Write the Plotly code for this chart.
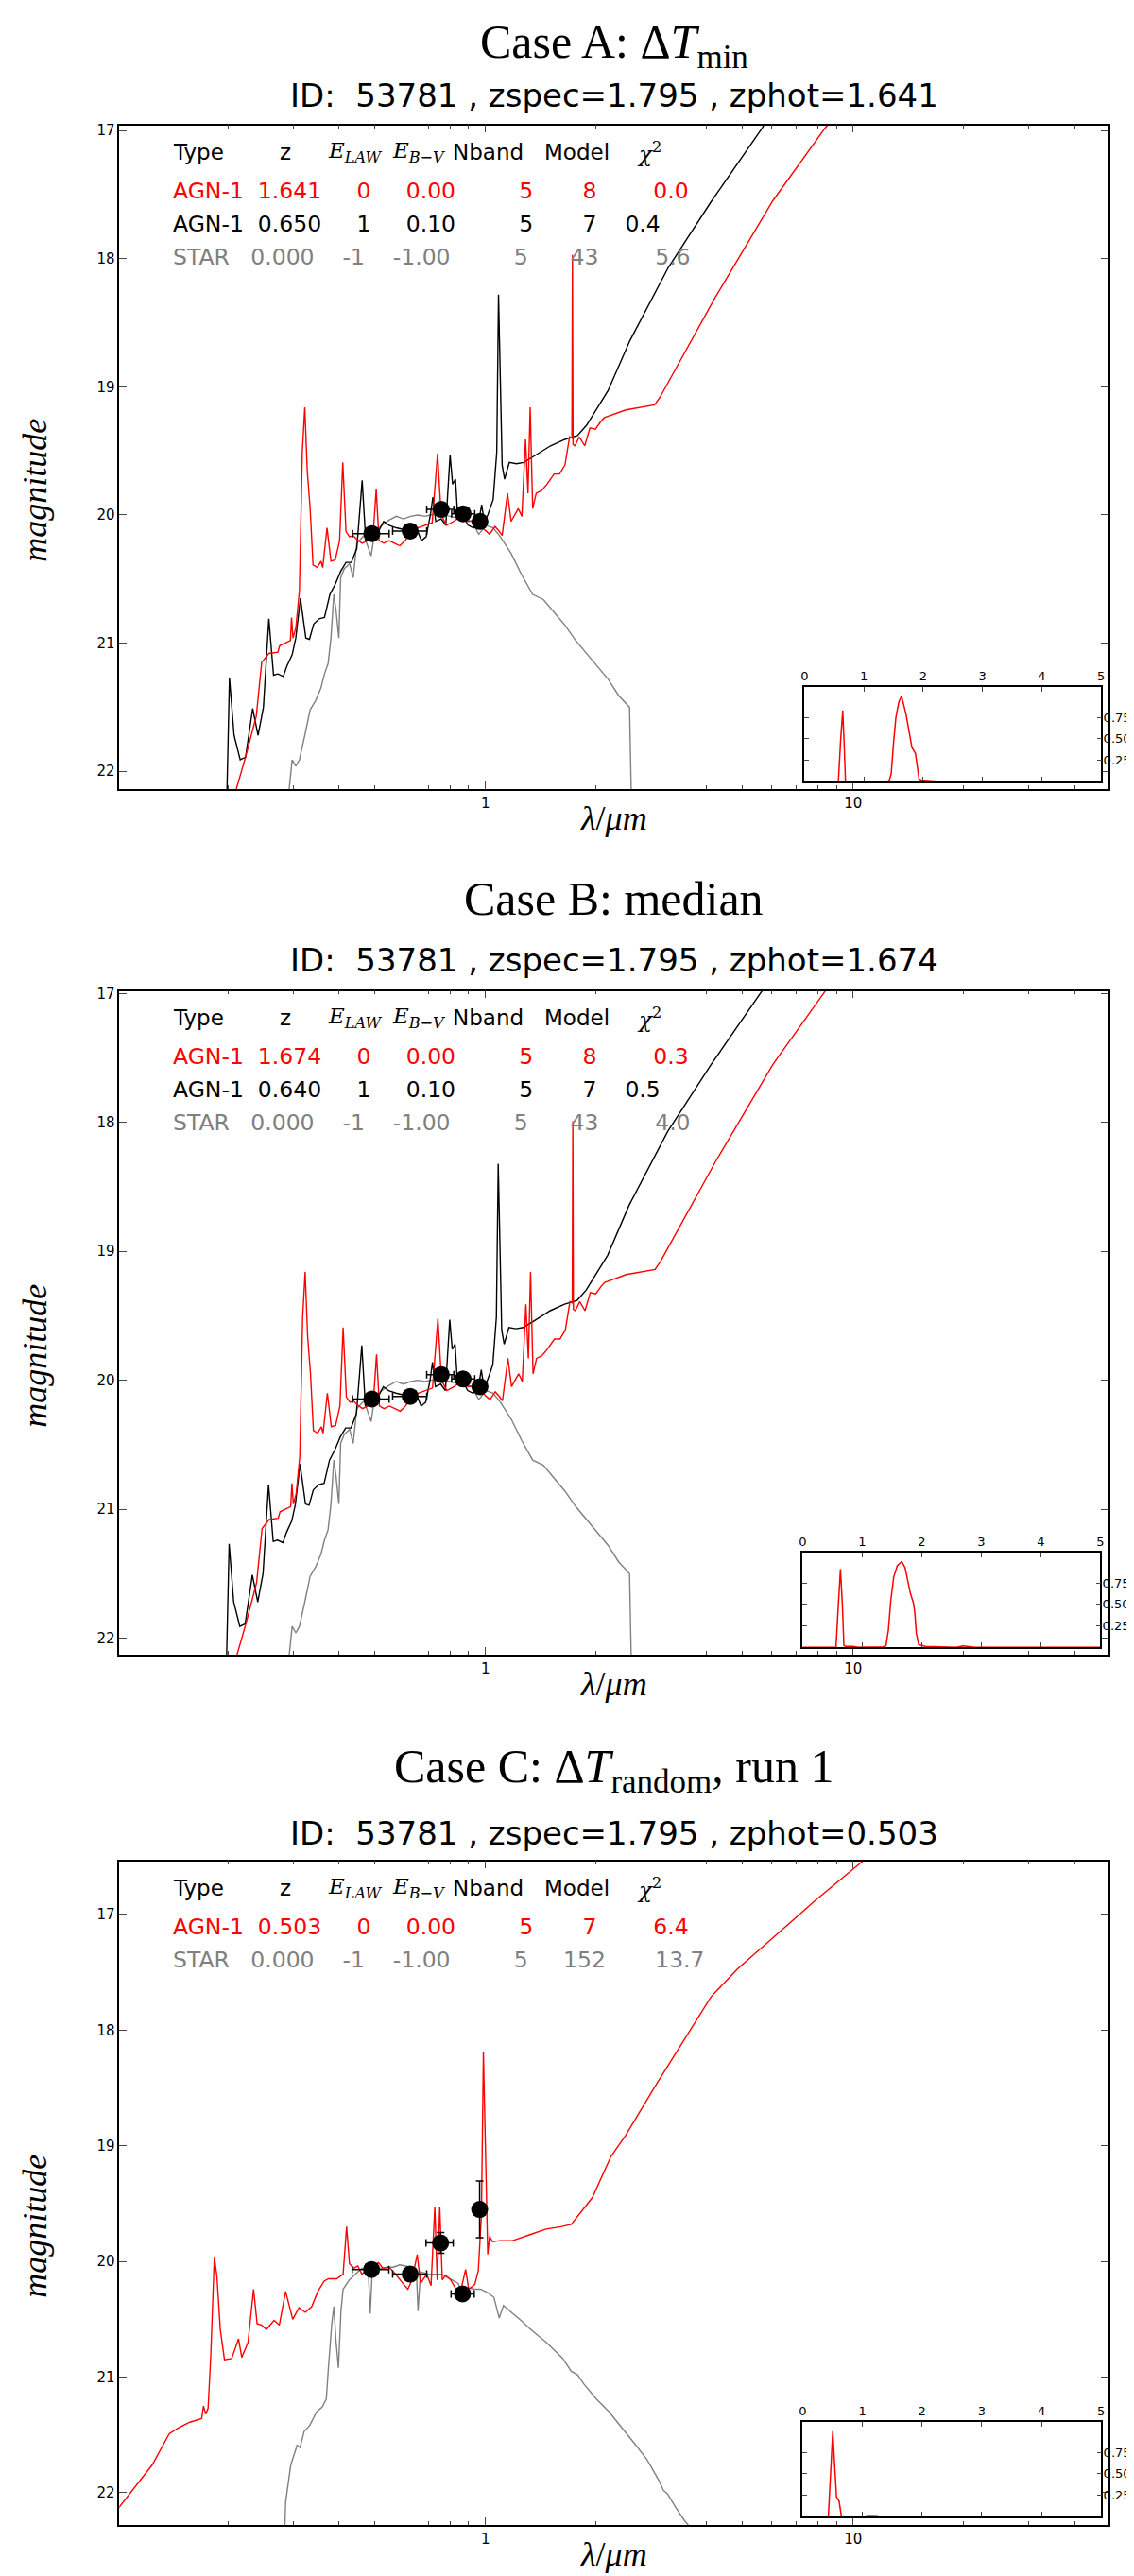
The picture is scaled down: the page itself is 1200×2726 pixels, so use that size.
import plotly.graph_objects as go

# ---------------- data ----------------
# photometry (lambda in micron, magnitudes)
phot_lam = [0.491, 0.624, 0.758, 0.869, 0.966]
phot_lam_lo = [0.056, 0.065, 0.066, 0.060, 0.039]
phot_lam_hi = [0.056, 0.068, 0.062, 0.066, 0.041]
phot_mag_ab = [20.145, 20.125, 19.956, 19.99, 20.05]
phot_err_ab = [0.03, 0.03, 0.03, 0.03, 0.03]
phot_lam_c = [0.490, 0.624, 0.755, 0.866, 0.964]
phot_mag_c = [20.07, 20.11, 19.84, 20.28, 19.55]
phot_err_c = [0.03, 0.03, 0.09, 0.05, 0.245]

# Case A
a_red_lam = [0.2080, 0.2225, 0.2380, 0.2462, 0.2575, 0.2725, 0.2756, 0.2947, 0.2968, 0.2995, 0.3049,
             0.3118, 0.3175, 0.3225, 0.3276, 0.3335, 0.3396, 0.3488, 0.3568, 0.3608, 0.3707, 0.3799,
             0.3903, 0.4010, 0.4091, 0.4175, 0.4270, 0.4367, 0.4467, 0.4619, 0.4777, 0.4943, 0.5044,
             0.5135, 0.5286, 0.5467, 0.5655, 0.5849, 0.6049, 0.6257, 0.6546, 0.6847, 0.7161, 0.7407,
             0.7575, 0.7834, 0.8194, 0.8570, 0.8966, 0.9378, 0.9809, 1.026, 1.061, 1.085, 1.110, 1.148,
             1.174, 1.228, 1.256, 1.285, 1.305, 1.323, 1.344, 1.374, 1.421, 1.470, 1.537, 1.590, 1.645,
             1.693, 1.718, 1.724, 1.730, 1.751, 1.800, 1.861, 1.924, 1.991, 2.059, 2.106, 2.410, 2.885,
             2.984, 4.22, 6.04, 8.39, 10.2]
a_red_mag = [22.18, 21.89, 21.57, 21.15, 21.08, 21.07, 21.02, 20.98, 20.80, 20.96, 20.88,
             20.59, 19.51, 19.16, 19.66, 19.95, 20.39, 20.41, 20.36, 20.41, 20.10, 20.36,
             20.35, 20.20, 19.59, 20.13, 20.17, 20.16, 20.19, 20.22, 20.20, 20.17, 19.80,
             20.20, 20.22, 20.20, 20.22, 20.24, 20.20, 20.13, 20.10, 20.08, 20.06, 19.52,
             20.00, 20.08, 20.05, 20.01, 20.05, 20.04, 20.10, 20.15, 20.09, 20.12, 20.16, 19.83,
             20.05, 19.95, 20.01, 19.41, 19.83, 19.16, 19.95, 19.83, 19.81, 19.76, 19.68, 19.68, 19.61,
             19.39, 19.40, 17.97, 19.45, 19.46, 19.39, 19.46, 19.32, 19.33, 19.27, 19.24, 19.18, 19.14,
             19.08, 18.30, 17.55, 16.98, 16.70]
a_blk_lam = [0.1980, 0.2012, 0.2071, 0.2152, 0.2225, 0.2327, 0.2407, 0.2489, 0.2575, 0.2652, 0.2725,
             0.2818, 0.2882, 0.2980, 0.3048, 0.3138, 0.3246, 0.3320, 0.3411, 0.3528, 0.3648, 0.3774,
             0.3903, 0.4037, 0.4175, 0.4318, 0.4467, 0.4619, 0.4724, 0.4887, 0.5110, 0.5286, 0.5467,
             0.5719, 0.6117, 0.6546, 0.6695, 0.6894, 0.7082, 0.7193, 0.7323, 0.7575, 0.7799, 0.8011,
             0.8139, 0.8286, 0.8380, 0.8667, 0.8966, 0.9273, 0.9590, 0.9763, 0.9918, 1.0144, 1.0493,
             1.0731, 1.085, 1.110, 1.127, 1.161, 1.214, 1.270, 1.374, 1.503, 1.645, 1.779, 1.883,
             2.013, 2.154, 2.47, 3.14, 4.12, 5.66, 7.0]
a_blk_mag = [22.18, 21.27, 21.72, 21.91, 21.89, 21.51, 21.72, 21.50, 20.81, 21.25, 21.24,
             21.26, 21.18, 21.09, 20.96, 20.65, 20.96, 20.97, 20.85, 20.81, 20.80, 20.62,
             20.54, 20.44, 20.37, 20.37, 20.26, 19.73, 20.20, 20.16, 20.13, 20.05, 20.08,
             20.10, 20.12, 20.13, 20.20, 20.17, 20.00, 19.86, 20.05, 20.03, 20.08, 19.53,
             19.76, 19.72, 19.95, 20.00, 20.08, 20.10, 20.05, 19.92, 20.05, 20.00, 19.88,
             19.51, 18.28, 19.61, 19.72, 19.59, 19.60, 19.59, 19.53, 19.46, 19.41, 19.38, 19.30,
             19.17, 19.03, 18.64, 18.07, 17.55, 16.98, 16.50]
a_gry_lam = [0.2914, 0.2980, 0.3049, 0.3118, 0.3225, 0.3335, 0.3449, 0.3568, 0.3648, 0.3731, 0.3799,
             0.3868, 0.3921, 0.3992, 0.4037, 0.4128, 0.4270, 0.4367, 0.4467, 0.4672, 0.4887, 0.4998,
             0.5227, 0.5467, 0.5719, 0.5981, 0.6257, 0.6546, 0.6847, 0.7082, 0.7490, 0.8011, 0.8570,
             0.9169, 0.9590, 1.003, 1.049, 1.098, 1.174, 1.256, 1.344, 1.437, 1.537, 1.645, 1.760,
             1.883, 2.013, 2.154, 2.304, 2.465, 2.492]
a_gry_mag = [22.18, 21.91, 21.96, 21.91, 21.72, 21.52, 21.45, 21.35, 21.24, 21.16, 20.96,
             20.62, 20.74, 20.96, 20.49, 20.42, 20.38, 20.49, 20.22, 20.16, 20.32, 20.13,
             20.08, 20.04, 20.01, 20.03, 20.01, 20.00, 20.01, 20.00, 19.99, 20.01, 20.03,
             20.05, 20.15, 20.08, 20.10, 20.17, 20.30, 20.47, 20.62, 20.66, 20.76, 20.86, 20.98,
             21.08, 21.18, 21.28, 21.41, 21.50, 22.18]
a_pz_z = [0.0, 0.57, 0.61, 0.644, 0.67, 0.69, 0.75, 1.0, 1.40, 1.43, 1.46, 1.50, 1.54, 1.59, 1.635,
          1.71, 1.76, 1.81, 1.87, 1.90, 1.93, 1.97, 2.24, 2.5, 5.0]
a_pz_p = [0.0, 0.0, 0.5, 0.83, 0.4, 0.0, 0.005, 0.002, 0.002, 0.02, 0.09, 0.45, 0.75, 0.93, 1.0,
          0.79, 0.60, 0.40, 0.33, 0.20, 0.03, 0.02, 0.005, 0.0, 0.0]

# Case B (read separately; at this resolution it is almost the same as A)
b_red_lam = [0.2085, 0.2230, 0.2385, 0.2468, 0.2580, 0.2730, 0.2762, 0.2953, 0.2975, 0.3002, 0.3056,
             0.3125, 0.3182, 0.3232, 0.3283, 0.3342, 0.3404, 0.3496, 0.3576, 0.3616, 0.3715, 0.3807,
             0.3912, 0.4019, 0.4100, 0.4184, 0.4280, 0.4377, 0.4477, 0.4629, 0.4788, 0.4954, 0.5055,
             0.5146, 0.5298, 0.5479, 0.5668, 0.5862, 0.6062, 0.6271, 0.6560, 0.6862, 0.7177, 0.7423,
             0.7592, 0.7851, 0.8212, 0.8589, 0.8986, 0.9399, 0.9830, 1.028, 1.063, 1.087, 1.112, 1.151,
             1.177, 1.231, 1.259, 1.288, 1.308, 1.326, 1.347, 1.377, 1.424, 1.473, 1.540, 1.594, 1.649,
             1.697, 1.722, 1.728, 1.734, 1.755, 1.804, 1.865, 1.928, 1.995, 2.064, 2.111, 2.415, 2.891,
             2.990, 4.23, 6.05, 8.40, 10.2]
b_red_mag = [22.18, 21.89, 21.57, 21.15, 21.08, 21.07, 21.02, 20.98, 20.80, 20.96, 20.88,
             20.59, 19.51, 19.16, 19.66, 19.95, 20.39, 20.41, 20.36, 20.41, 20.10, 20.36,
             20.35, 20.20, 19.59, 20.13, 20.17, 20.16, 20.19, 20.22, 20.20, 20.17, 19.80,
             20.20, 20.22, 20.20, 20.22, 20.24, 20.20, 20.13, 20.10, 20.08, 20.06, 19.52,
             20.00, 20.08, 20.05, 20.01, 20.05, 20.04, 20.10, 20.15, 20.09, 20.12, 20.16, 19.83,
             20.05, 19.95, 20.01, 19.41, 19.83, 19.16, 19.95, 19.83, 19.81, 19.76, 19.68, 19.68, 19.61,
             19.39, 19.40, 17.99, 19.45, 19.46, 19.39, 19.46, 19.32, 19.33, 19.27, 19.24, 19.18, 19.14,
             19.08, 18.30, 17.55, 16.98, 16.70]
b_blk_lam = [0.1975, 0.2008, 0.2066, 0.2147, 0.2220, 0.2322, 0.2402, 0.2483, 0.2570, 0.2646, 0.2719,
             0.2812, 0.2876, 0.2973, 0.3041, 0.3131, 0.3239, 0.3312, 0.3403, 0.3520, 0.3640, 0.3765,
             0.3894, 0.4028, 0.4166, 0.4308, 0.4457, 0.4609, 0.4713, 0.4876, 0.5098, 0.5274, 0.5454,
             0.5706, 0.6103, 0.6531, 0.6680, 0.6878, 0.7066, 0.7176, 0.7306, 0.7558, 0.7781, 0.7993,
             0.8120, 0.8267, 0.8361, 0.8647, 0.8946, 0.9252, 0.9568, 0.9741, 0.9895, 1.0121, 1.0469,
             1.0706, 1.083, 1.107, 1.124, 1.158, 1.211, 1.267, 1.371, 1.500, 1.641, 1.775, 1.879,
             2.008, 2.149, 2.46, 3.13, 4.11, 5.65, 7.0]
b_blk_mag = [22.18, 21.27, 21.72, 21.91, 21.89, 21.51, 21.72, 21.50, 20.81, 21.25, 21.24,
             21.26, 21.18, 21.09, 20.96, 20.65, 20.96, 20.97, 20.85, 20.81, 20.80, 20.62,
             20.54, 20.44, 20.37, 20.37, 20.26, 19.73, 20.20, 20.16, 20.13, 20.05, 20.08,
             20.10, 20.12, 20.13, 20.20, 20.17, 20.00, 19.86, 20.05, 20.03, 20.08, 19.53,
             19.76, 19.72, 19.95, 20.00, 20.08, 20.10, 20.05, 19.92, 20.05, 20.00, 19.88,
             19.51, 18.32, 19.61, 19.72, 19.59, 19.60, 19.59, 19.53, 19.46, 19.41, 19.38, 19.30,
             19.17, 19.03, 18.64, 18.07, 17.55, 16.98, 16.50]
b_gry_lam = [0.2914, 0.2980, 0.3049, 0.3118, 0.3225, 0.3335, 0.3449, 0.3568, 0.3648, 0.3731, 0.3799,
             0.3868, 0.3921, 0.3992, 0.4037, 0.4128, 0.4270, 0.4367, 0.4467, 0.4672, 0.4887, 0.4998,
             0.5227, 0.5467, 0.5719, 0.5981, 0.6257, 0.6546, 0.6847, 0.7082, 0.7490, 0.8011, 0.8570,
             0.9169, 0.9590, 1.003, 1.049, 1.098, 1.174, 1.256, 1.344, 1.437, 1.537, 1.645, 1.760,
             1.883, 2.013, 2.154, 2.304, 2.465, 2.492]
b_gry_mag = [22.18, 21.91, 21.96, 21.91, 21.72, 21.52, 21.45, 21.35, 21.24, 21.16, 20.96,
             20.62, 20.74, 20.96, 20.49, 20.42, 20.38, 20.49, 20.22, 20.16, 20.32, 20.13,
             20.08, 20.04, 20.01, 20.03, 20.01, 20.00, 20.01, 20.00, 19.99, 20.01, 20.03,
             20.05, 20.15, 20.08, 20.10, 20.17, 20.30, 20.47, 20.62, 20.66, 20.76, 20.86, 20.98,
             21.08, 21.18, 21.28, 21.41, 21.50, 22.18]
b_pz_z = [0.0, 0.56, 0.60, 0.635, 0.667, 0.693, 0.72, 0.85, 0.93, 1.35, 1.40, 1.44, 1.48, 1.53,
          1.59, 1.665, 1.72, 1.77, 1.81, 1.86, 1.885, 1.91, 1.95, 2.06, 2.27, 2.58, 2.69, 2.79,
          2.9, 5.0]
b_pz_p = [0.0, 0.0, 0.5, 0.91, 0.5, 0.02, 0.01, 0.01, 0.0, 0.005, 0.02, 0.2, 0.54, 0.82,
          0.95, 1.0, 0.93, 0.75, 0.63, 0.52, 0.40, 0.16, 0.03, 0.01, 0.005, 0.0, 0.015, 0.005,
          0.0, 0.0]

# Case C
c_red_lam = [0.100, 0.124, 0.138, 0.146, 0.157, 0.169, 0.171, 0.1734, 0.176, 0.179, 0.183, 0.186,
             0.190, 0.195, 0.204, 0.213, 0.2173, 0.226, 0.234, 0.2393, 0.246, 0.2535, 0.266, 0.275,
             0.286, 0.299, 0.311, 0.3236, 0.337, 0.350, 0.364, 0.374, 0.394, 0.410, 0.419, 0.4266,
             0.438, 0.4496, 0.461, 0.486, 0.512, 0.526, 0.547, 0.569, 0.600, 0.615, 0.631, 0.652,
             0.666, 0.692, 0.711, 0.728, 0.739, 0.751, 0.763, 0.779, 0.804, 0.832, 0.854, 0.883,
             0.900, 0.935, 0.956, 0.975, 0.987, 1.000, 1.014, 1.026, 1.045, 1.096, 1.185, 1.316,
             1.462, 1.603, 1.711, 1.951, 2.196, 2.406, 2.90, 4.11, 4.85, 6.21, 7.95, 10.6, 12.0]
c_red_mag = [22.14, 21.76, 21.49, 21.44, 21.39, 21.36, 21.25, 21.32, 21.27, 20.81, 19.96, 20.13,
             20.59, 20.85, 20.84, 20.67, 20.83, 20.70, 20.24, 20.54, 20.55, 20.59, 20.51, 20.55,
             20.26, 20.50, 20.40, 20.44, 20.39, 20.26, 20.17, 20.15, 20.15, 20.11, 19.70, 20.02,
             20.06, 20.04, 20.11, 20.05, 20.01, 20.06, 20.05, 20.11, 20.20, 20.24, 20.16, 19.94,
             20.19, 20.11, 20.21, 19.53, 20.16, 19.53, 20.16, 20.12, 20.16, 20.24, 20.27, 20.07,
             20.24, 20.20, 20.08, 19.59, 18.19, 19.13, 19.94, 19.78, 19.83, 19.82, 19.82, 19.77,
             19.72, 19.70, 19.68, 19.45, 19.09, 18.91, 18.48, 17.71, 17.47, 17.17, 16.87, 16.54, 16.40]
c_gry_lam = [0.2847, 0.2861, 0.2954, 0.3073, 0.3129, 0.3212, 0.3323, 0.3475, 0.3595, 0.3690, 0.3739,
             0.3818, 0.3869, 0.3920, 0.3982, 0.4045, 0.4099, 0.4263, 0.4433, 0.4610, 0.4797, 0.4860,
             0.4924, 0.5189, 0.5397, 0.5614, 0.5839, 0.6073, 0.6317, 0.6486, 0.6554, 0.6658, 0.7016,
             0.7590, 0.8000, 0.8432, 0.8768, 0.9000, 0.9363, 0.9687, 1.013, 1.054, 1.090, 1.119,
             1.186, 1.249, 1.317, 1.388, 1.463, 1.541, 1.624, 1.711, 1.780, 1.852, 2.003, 2.168,
             2.345, 2.536, 2.745, 2.970, 3.048, 3.128, 3.297, 3.475, 3.586]
c_gry_mag = [22.28, 22.08, 21.76, 21.59, 21.61, 21.47, 21.42, 21.30, 21.26, 21.19, 20.92,
             20.54, 20.39, 20.68, 20.92, 20.43, 20.24, 20.16, 20.11, 20.06, 20.06, 20.45,
             20.06, 20.06, 20.05, 20.05, 20.03, 20.04, 20.06, 20.08, 20.43, 20.09, 20.11,
             20.11, 20.15, 20.19, 20.35, 20.23, 20.24, 20.24, 20.27, 20.31, 20.49, 20.38,
             20.45, 20.51, 20.58, 20.64, 20.70, 20.77, 20.84, 20.95, 20.98, 21.06, 21.19, 21.30,
             21.44, 21.57, 21.71, 21.90, 21.98, 22.01, 22.13, 22.24, 22.29]
c_pz_z = [0.0, 0.43, 0.47, 0.504, 0.536, 0.567, 0.61, 0.65, 1.0, 1.1, 1.25, 1.3, 5.0]
c_pz_p = [0.0, 0.0, 0.53, 1.0, 0.60, 0.23, 0.18, 0.0, 0.0, 0.012, 0.01, 0.0, 0.0]

# fit tables
a_type = ["AGN-1", "AGN-1", "STAR"]
a_z = [1.641, 0.650, 0.000]
a_elaw = [0, 1, -1]
a_ebv = [0.00, 0.10, -1.00]
a_nband = [5, 5, 5]
a_model = [8, 7, 43]
a_chi2 = [0.0, 0.4, 5.6]
b_type = ["AGN-1", "AGN-1", "STAR"]
b_z = [1.674, 0.640, 0.000]
b_elaw = [0, 1, -1]
b_ebv = [0.00, 0.10, -1.00]
b_nband = [5, 5, 5]
b_model = [8, 7, 43]
b_chi2 = [0.3, 0.5, 4.0]
c_type = ["AGN-1", "STAR"]
c_z = [0.503, 0.000]
c_elaw = [0, -1]
c_ebv = [0.00, -1.00]
c_nband = [5, 5]
c_model = [7, 152]
c_chi2 = [6.4, 13.7]

case_titles = ["Case A: Δ<i>T</i><sub>min</sub>", "Case B: median",
               "Case C: Δ<i>T</i><sub>random</sub>, run 1"]
obj_id, zspec = 53781, 1.795
zphot = [1.641, 1.674, 0.503]

# ---------------- layout geometry (pixels) ----------------
W, H = 1200, 2726
def fx(p):
    return p / W
def fy(p):
    return 1 - p / H

X0, X1 = 115, 1169
TOPS = [119, 1037, 1960]
BOTS = [823, 1741, 2664]
YRANGES = [[22.14, 16.96], [22.13, 16.98], [22.28, 16.54]]
IN_X = [(845, 1161), (843, 1160), (843, 1161)]
IN_Y = [(715, 815), (1633, 1733), (2555, 2655)]
TITLE_TOP = [0, 909, 1829]
ID_Y = [87, 1004, 1930]

RED, BLACK, GREY = "#ff0000", "#000000", "#808080"
TICKFONT = dict(family="DejaVu Sans", size=15, color="black")
INFONT = dict(family="DejaVu Sans", size=13, color="black")

panels = [
    dict(curves=[(a_gry_lam, a_gry_mag, GREY), (a_blk_lam, a_blk_mag, BLACK), (a_red_lam, a_red_mag, RED)],
         phot=(phot_lam, phot_mag_ab, phot_err_ab), pz=(a_pz_z, a_pz_p),
         table=(a_type, a_z, a_elaw, a_ebv, a_nband, a_model, a_chi2), colors=[RED, BLACK, GREY]),
    dict(curves=[(b_gry_lam, b_gry_mag, GREY), (b_blk_lam, b_blk_mag, BLACK), (b_red_lam, b_red_mag, RED)],
         phot=(phot_lam, phot_mag_ab, phot_err_ab), pz=(b_pz_z, b_pz_p),
         table=(b_type, b_z, b_elaw, b_ebv, b_nband, b_model, b_chi2), colors=[RED, BLACK, GREY]),
    dict(curves=[(c_gry_lam, c_gry_mag, GREY), (c_red_lam, c_red_mag, RED)],
         phot=(phot_lam_c, phot_mag_c, phot_err_c), pz=(c_pz_z, c_pz_p),
         table=(c_type, c_z, c_elaw, c_ebv, c_nband, c_model, c_chi2), colors=[RED, GREY]),
]

fig = go.Figure()
annotations = []
layout_axes = {}
minor_vals = [0.2, 0.3, 0.4, 0.5, 0.6, 0.7, 0.8, 0.9, 2, 3, 4, 5, 6, 7, 8, 9, 20, 30, 40]


def row_text(typ, z, elaw, ebv, nb, mod, chi, second):
    chi_w = 7 if second else 11
    s = "{:<5s}  {:5.3f}{:6d}{:9.2f}{:10d}{:8d}{:{w}.1f}".format(typ, z, elaw, ebv, nb, mod, chi, w=chi_w)
    return s.replace(" ", "\u00a0")


for i, p in enumerate(panels):
    m, n = 2 * i + 1, 2 * i + 2
    xm, ym = f"x{m}" if m > 1 else "x", f"y{m}" if m > 1 else "y"
    xn, yn = f"x{n}", f"y{n}"
    for lam, mag, col in p["curves"]:
        fig.add_trace(go.Scatter(x=lam, y=mag, mode="lines", line=dict(color=col, width=1.4),
                                 xaxis=xm, yaxis=ym, showlegend=False, hoverinfo="skip"))
    plam, pmag, perr = p["phot"]
    fig.add_trace(go.Scatter(
        x=plam, y=pmag, mode="markers", xaxis=xm, yaxis=ym, showlegend=False,
        marker=dict(color="black", size=18),
        error_x=dict(type="data", array=phot_lam_hi, arrayminus=phot_lam_lo, color="black",
                     thickness=1.5, width=4),
        error_y=dict(type="data", array=perr, color="black", thickness=1.5, width=4)))
    pz_z, pz_p = p["pz"]
    fig.add_trace(go.Scatter(x=pz_z, y=pz_p, mode="lines", line=dict(color=RED, width=1.5),
                             xaxis=xn, yaxis=yn, showlegend=False, hoverinfo="skip"))

    top, bot = TOPS[i], BOTS[i]
    layout_axes["xaxis" if m == 1 else f"xaxis{m}"] = dict(
        domain=[fx(X0), fx(X1)], anchor=ym, type="log", range=[-0.996, 1.695],
        tickvals=[1, 10], ticktext=["1", "10"], ticks="inside", ticklen=8, tickwidth=1,
        minor=dict(tickvals=minor_vals, ticks="inside", ticklen=4, showgrid=False),
        showline=True, linecolor="black", linewidth=1.5, mirror="ticks",
        showgrid=False, zeroline=False, tickfont=TICKFONT)
    layout_axes["yaxis" if m == 1 else f"yaxis{m}"] = dict(
        domain=[fy(bot), fy(top)], anchor=xm, range=YRANGES[i],
        tickvals=[17, 18, 19, 20, 21, 22], ticks="inside", ticklen=8,
        showline=True, linecolor="black", linewidth=1.5, mirror="ticks",
        showgrid=False, zeroline=False, tickfont=TICKFONT)
    ix0, ix1 = IN_X[i]
    iy0, iy1 = IN_Y[i]
    layout_axes[f"xaxis{n}"] = dict(
        domain=[fx(ix0), fx(ix1)], anchor=yn, range=[0, 5], side="top",
        tickvals=[0, 1, 2, 3, 4, 5], ticks="inside", ticklen=5,
        showline=True, linecolor="black", linewidth=1.5, mirror="ticks",
        showgrid=False, zeroline=False, tickfont=INFONT)
    layout_axes[f"yaxis{n}"] = dict(
        domain=[fy(iy1), fy(iy0)], anchor=xn, range=[0, 1.1], side="right",
        tickvals=[0.25, 0.5, 0.75], ticktext=["0.25", "0.50", "0.75"], ticks="inside", ticklen=5,
        showline=True, linecolor="black", linewidth=1.5, mirror="ticks", ticklabeloverflow="allow",
        ticklabelstandoff=-2,
        showgrid=False, zeroline=False, tickfont=INFONT)

    # titles
    annotations.append(dict(text=case_titles[i], x=fx(642), y=fy(TITLE_TOP[i]), xref="paper", yref="paper",
                            xanchor="center", yanchor="top", showarrow=False,
                            font=dict(family="Liberation Serif", size=50, color="black")))
    id_txt = "ID:\u00a0\u00a0{} , zspec={:.3f} , zphot={:.3f}".format(obj_id, zspec, zphot[i])
    annotations.append(dict(text=id_txt, x=fx(642), y=fy(ID_Y[i]), xref="paper", yref="paper",
                            xanchor="center", yanchor="middle", showarrow=False,
                            font=dict(family="DejaVu Sans", size=34, color="black")))
    # axis labels
    annotations.append(dict(text="<i>magnitude</i>", x=fx(25), y=fy((top + bot) / 2 + 35), xref="paper",
                            yref="paper", xanchor="center", yanchor="middle", textangle=-90,
                            showarrow=False, font=dict(family="Liberation Serif", size=36, color="black")))
    annotations.append(dict(text="<i>λ</i>/<i>μm</i>", x=fx(642), y=fy(bot + 31), xref="paper",
                            yref="paper", xanchor="center", yanchor="middle",
                            showarrow=False, font=dict(family="Liberation Serif", size=36, color="black")))
    # table header
    hy = fy(top + 28)
    hfont = dict(family="DejaVu Sans", size=23, color="black")
    sfont = dict(family="DejaVu Serif", size=23, color="black")
    for txt, xp, anc, fnt in [("Type", 170, "left", hfont), ("z", 292, "center", hfont),
                              ("<i>E</i><sub><i>LAW</i></sub>", 366, "center", sfont),
                              ("<i>E</i><sub><i>B−V</i></sub>", 434, "center", sfont),
                              ("Nband", 468, "left", hfont), ("Model", 566, "left", hfont),
                              ("<i>χ</i><sup>2</sup>", 680, "center", sfont)]:
        annotations.append(dict(text=txt, x=fx(xp), y=hy, xref="paper", yref="paper", xanchor=anc,
                                yanchor="middle", showarrow=False, font=fnt))
    typ, zz, el, eb, nb, mo, ch = p["table"]
    for r in range(len(typ)):
        second = (r == 1 and len(typ) == 3)
        annotations.append(dict(text=row_text(typ[r], zz[r], el[r], eb[r], nb[r], mo[r], ch[r], second),
                                x=fx(170), y=fy(top + 69 + 35.5 * r), xref="paper", yref="paper",
                                xanchor="left", yanchor="middle", showarrow=False,
                                font=dict(family="DejaVu Sans", size=23.5, color=p["colors"][r])))

fig.update_layout(width=W, height=H, margin=dict(l=0, r=0, t=0, b=0),
                  paper_bgcolor="white", plot_bgcolor="white", showlegend=False,
                  annotations=annotations, **layout_axes)
fig.write_html("out.html")
